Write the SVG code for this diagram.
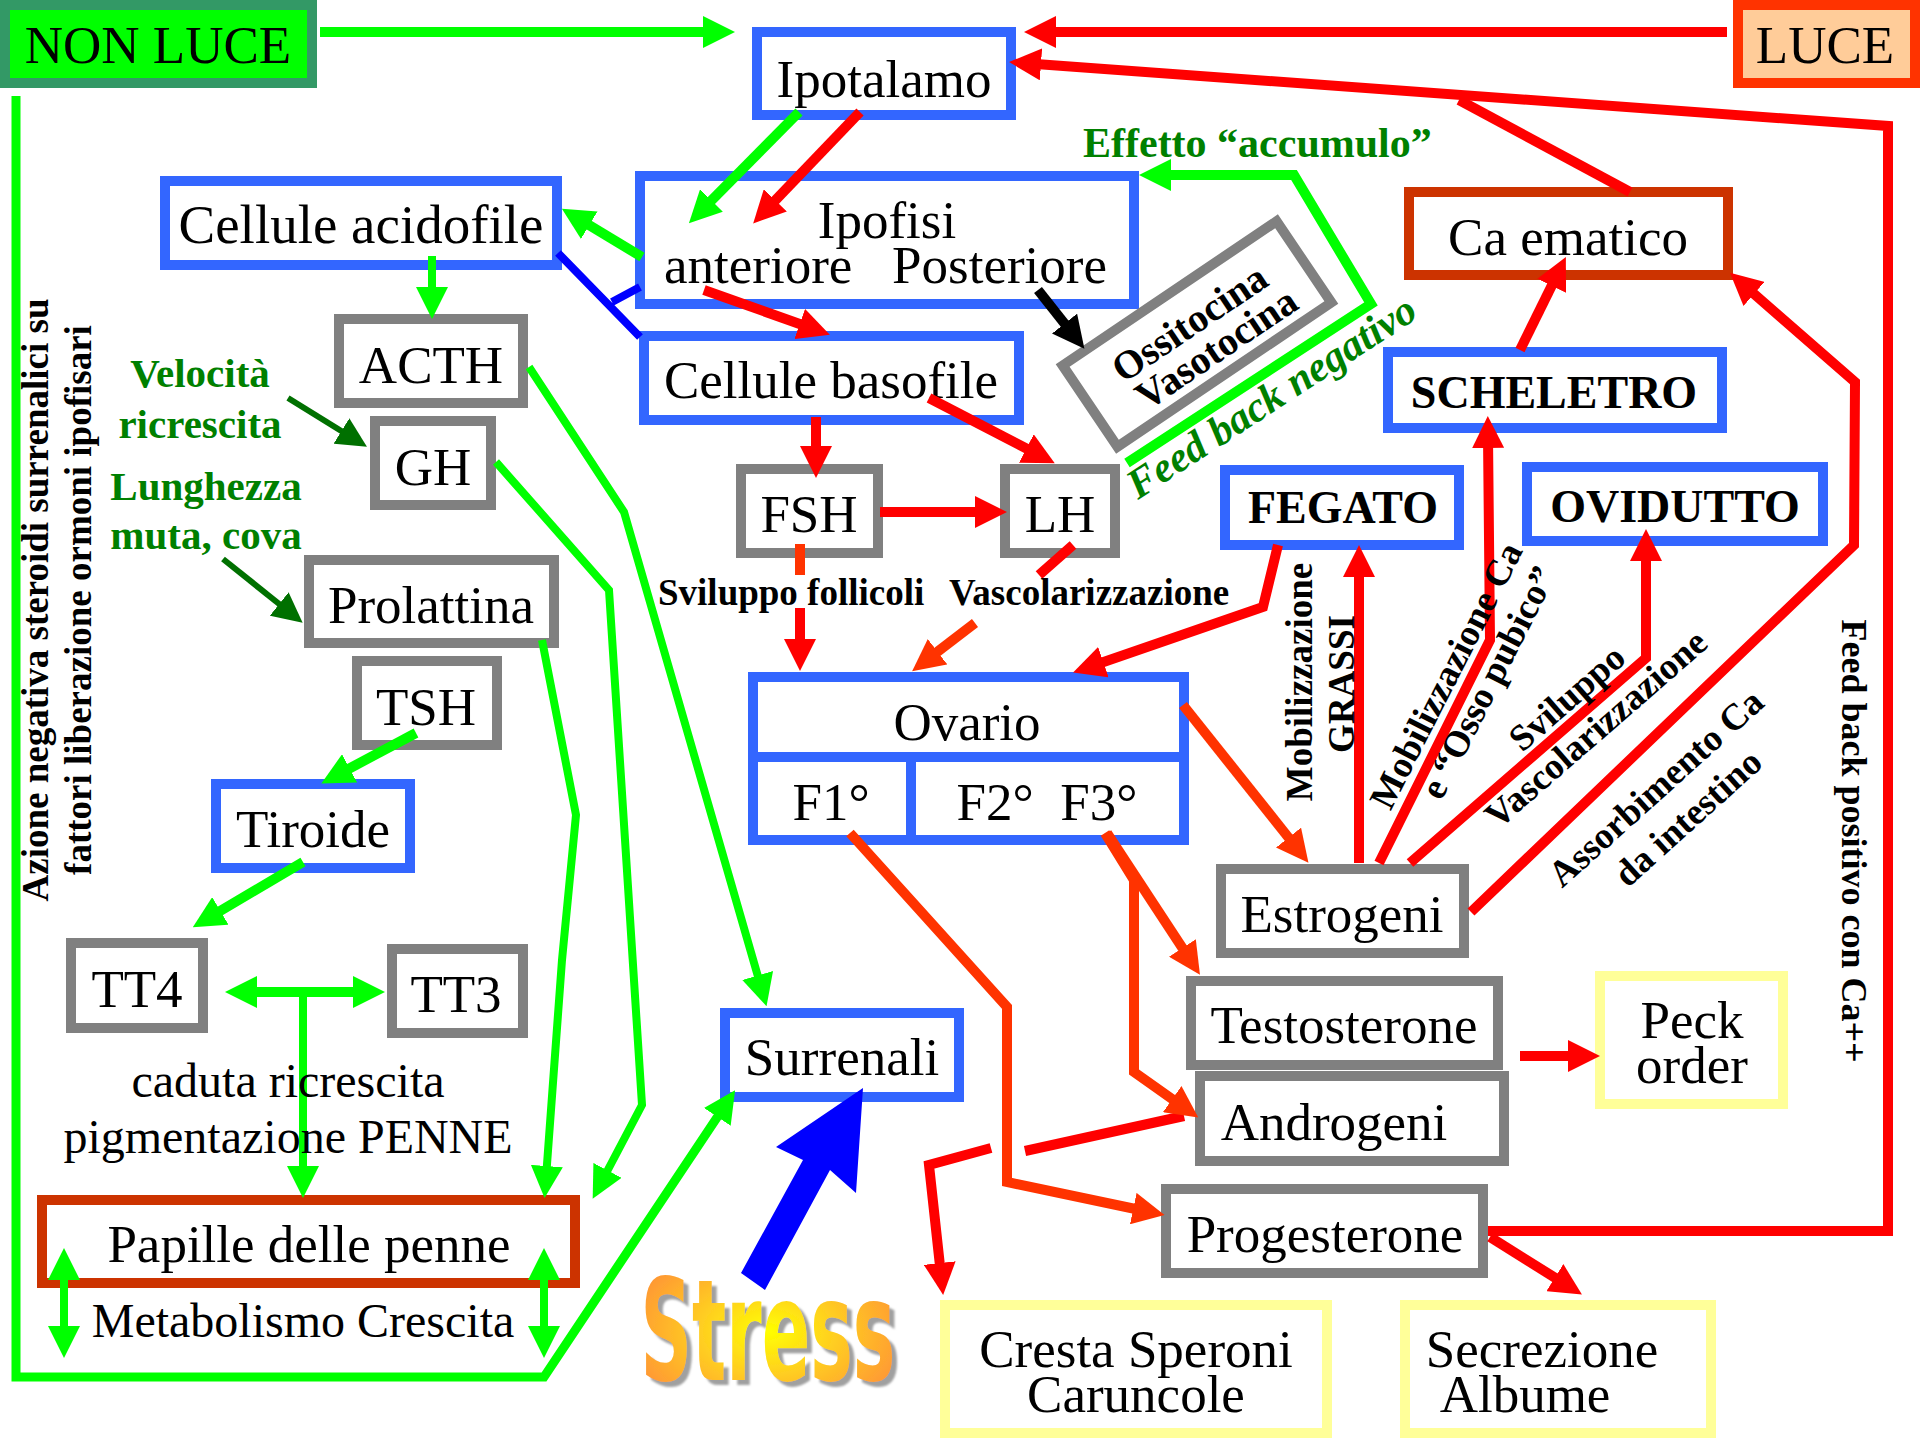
<svg xmlns="http://www.w3.org/2000/svg" width="1920" height="1440" viewBox="0 0 1920 1440">
<defs>
<style>
.bx{fill:#fff;stroke-width:10}
.bl{stroke:#3366ff}
.gr{stroke:#808080}
.br{stroke:#cc3300}
.ye{stroke:#ffff99}
.t{font-family:"Liberation Serif","Times New Roman",serif;font-size:53px;fill:#000;text-anchor:middle}
.b{font-family:"Liberation Serif","Times New Roman",serif;font-weight:bold;fill:#000}
.gt{fill:#008000}
.g{stroke:#00ff00}
.r{stroke:#ff0000}
.o{stroke:#ff3300}
.k{stroke:#000}
.d{stroke:#007000}
.u{stroke:#0000ff}
</style>
<marker id="ag" viewBox="0 0 32 32" refX="12" refY="16" markerWidth="32" markerHeight="32" markerUnits="userSpaceOnUse" orient="auto-start-reverse"><path d="M0,0L32,16L0,32z" fill="#00ff00"/></marker>
<marker id="ar" viewBox="0 0 32 32" refX="12" refY="16" markerWidth="32" markerHeight="32" markerUnits="userSpaceOnUse" orient="auto-start-reverse"><path d="M0,0L32,16L0,32z" fill="#ff0000"/></marker>
<marker id="ao" viewBox="0 0 32 32" refX="12" refY="16" markerWidth="32" markerHeight="32" markerUnits="userSpaceOnUse" orient="auto-start-reverse"><path d="M0,0L32,16L0,32z" fill="#ff3300"/></marker>
<marker id="ak" viewBox="0 0 32 32" refX="12" refY="16" markerWidth="32" markerHeight="32" markerUnits="userSpaceOnUse" orient="auto-start-reverse"><path d="M0,0L32,16L0,32z" fill="#000"/></marker>
<marker id="ad" viewBox="0 0 32 32" refX="12" refY="16" markerWidth="30" markerHeight="30" markerUnits="userSpaceOnUse" orient="auto-start-reverse"><path d="M0,0L32,16L0,32z" fill="#007000"/></marker>
<radialGradient id="sg" cx="50%" cy="50%" r="55%">
<stop offset="0" stop-color="#ffff00"/>
<stop offset="0.5" stop-color="#ffcc22"/>
<stop offset="1" stop-color="#ff9933"/>
</radialGradient>
<filter id="sh" x="-10%" y="-10%" width="130%" height="130%"><feDropShadow dx="5" dy="5" stdDeviation="1" flood-color="#a0a0a0"/></filter>
</defs>
<rect width="1920" height="1440" fill="#fff"/>

<g id="nodes">
<g id="n-nonluce"><rect x="5" y="5" width="307" height="78" fill="#00ff00" stroke="#339966" stroke-width="10"/><text class="t" x="158" y="63">NON LUCE</text></g>
<g id="n-luce"><rect x="1738" y="5" width="177" height="78" fill="#ffcc99" stroke="#ff3300" stroke-width="10"/><text class="t" x="1825" y="63">LUCE</text></g>
<g id="n-ipotalamo"><rect class="bx bl" x="757" y="32" width="254" height="83"/><text class="t" x="884" y="97">Ipotalamo</text></g>
<g id="n-ipofisi"><rect class="bx bl" x="640" y="176" width="494" height="128"/><text class="t" x="887" y="238">Ipofisi</text><text class="t" x="664" y="283" style="text-anchor:start" xml:space="preserve">anteriore   Posteriore</text></g>
<g id="n-acidofile"><rect class="bx bl" x="165" y="181" width="392" height="84"/><text class="t" x="361" y="243" style="font-size:55px">Cellule acidofile</text></g>
<g id="n-basofile"><rect class="bx bl" x="644" y="336" width="375" height="84"/><text class="t" x="831" y="398">Cellule basofile</text></g>
<g id="n-fsh"><rect class="bx gr" x="741" y="469" width="137" height="84"/><text class="t" x="809" y="532">FSH</text></g>
<g id="n-lh"><rect class="bx gr" x="1005" y="469" width="110" height="84"/><text class="t" x="1060" y="532">LH</text></g>
<g id="n-acth"><rect class="bx gr" x="339" y="319" width="184" height="84"/><text class="t" x="431" y="383">ACTH</text></g>
<g id="n-gh"><rect class="bx gr" x="375" y="421" width="116" height="84"/><text class="t" x="433" y="485">GH</text></g>
<g id="n-prolattina"><rect class="bx gr" x="309" y="560" width="245" height="83"/><text class="t" x="431" y="623">Prolattina</text></g>
<g id="n-tsh"><rect class="bx gr" x="357" y="661" width="140" height="84"/><text class="t" x="426" y="725">TSH</text></g>
<g id="n-tiroide"><rect class="bx bl" x="216" y="784" width="194" height="84"/><text class="t" x="313" y="847">Tiroide</text></g>
<g id="n-tt4"><rect class="bx gr" x="71" y="943" width="132" height="85"/><text class="t" x="137" y="1007">TT4</text></g>
<g id="n-tt3"><rect class="bx gr" x="392" y="949" width="131" height="84"/><text class="t" x="456" y="1012">TT3</text></g>
<g id="n-papille"><rect class="bx br" x="42" y="1200" width="533" height="83"/><text class="t" x="309" y="1262">Papille delle penne</text></g>
<g id="n-surrenali"><rect class="bx bl" x="725" y="1013" width="234" height="84"/><text class="t" x="842" y="1075">Surrenali</text></g>
<g id="n-ovario"><rect class="bx bl" x="753" y="677" width="431" height="163"/><path d="M748,757H1189M911,757V845" fill="none" stroke="#3366ff" stroke-width="10"/><text class="t" x="967" y="740">Ovario</text><text class="t" x="831" y="820">F1°</text><text class="t" x="1047" y="820" xml:space="preserve">F2°  F3°</text></g>
<g id="n-estrogeni"><rect class="bx gr" x="1221" y="869" width="243" height="84"/><text class="t" x="1342" y="932">Estrogeni</text></g>
<g id="n-testosterone"><rect class="bx gr" x="1191" y="981" width="307" height="84"/><text class="t" x="1344" y="1043">Testosterone</text></g>
<g id="n-androgeni"><rect class="bx gr" x="1200" y="1076" width="304" height="85"/><text class="t" x="1334" y="1140">Androgeni</text></g>
<g id="n-progesterone"><rect class="bx gr" x="1166" y="1189" width="317" height="84"/><text class="t" x="1325" y="1252">Progesterone</text></g>
<g id="n-peck"><rect class="bx ye" x="1600" y="976" width="183" height="128"/><text class="t" x="1692" y="1038">Peck</text><text class="t" x="1692" y="1083">order</text></g>
<g id="n-cresta"><rect class="bx ye" x="945" y="1305" width="382" height="128"/><text class="t" x="1136" y="1367">Cresta Speroni</text><text class="t" x="1136" y="1412">Caruncole</text></g>
<g id="n-secrezione"><rect class="bx ye" x="1405" y="1305" width="306" height="128"/><text class="t" x="1542" y="1367">Secrezione</text><text class="t" x="1525" y="1412">Albume</text></g>
<g id="n-caematico"><rect class="bx br" x="1409" y="192" width="319" height="83"/><text class="t" x="1568" y="255">Ca ematico</text></g>
<g id="n-scheletro"><rect class="bx bl" x="1388" y="352" width="334" height="76"/><text class="b" x="1554" y="408" font-size="46" text-anchor="middle">SCHELETRO</text></g>
<g id="n-fegato"><rect class="bx bl" x="1225" y="470" width="234" height="75"/><text class="b" x="1343" y="523" font-size="46" text-anchor="middle">FEGATO</text></g>
<g id="n-ovidutto"><rect class="bx bl" x="1527" y="467" width="296" height="74"/><text class="b" x="1675" y="522" font-size="46" text-anchor="middle">OVIDUTTO</text></g>
<g id="n-ossitocina" transform="translate(1197,334) rotate(-34)"><rect class="bx gr" x="-129" y="-49" width="258" height="98"/><text class="b" x="0" y="0" font-size="40" text-anchor="middle">Ossitocina</text><text class="b" x="8" y="36" font-size="40" text-anchor="middle">Vasotocina</text></g>
</g>

<g id="connectors" fill="none">
<path class="g" stroke-width="10" d="M320,32H715" marker-end="url(#ag)"/>
<path class="g" stroke-width="10" d="M799,112L703,209" marker-end="url(#ag)"/>
<path class="g" stroke-width="10" d="M642,257L579,219" marker-end="url(#ag)"/>
<path class="g" stroke-width="8" d="M432,256V299" marker-end="url(#ag)"/>
<path class="g" stroke-width="8" d="M529,367L624,512L761,987" marker-end="url(#ag)"/>
<path class="g" stroke-width="8" d="M496,462L609,590L642,1105L602,1181" marker-end="url(#ag)"/>
<path class="g" stroke-width="8" d="M542,640L576,815L562,960L546,1178" marker-end="url(#ag)"/>
<path class="g" stroke-width="10" d="M416,733L339,774" marker-end="url(#ag)"/>
<path class="g" stroke-width="10" d="M303,862L210,917" marker-end="url(#ag)"/>
<path class="g" stroke-width="10" d="M245,992H365" marker-start="url(#ag)" marker-end="url(#ag)"/>
<path class="g" stroke-width="8" d="M303,992V1178" marker-end="url(#ag)"/>
<path class="g" stroke-width="8" d="M64,1268V1338" marker-start="url(#ag)" marker-end="url(#ag)"/>
<path class="g" stroke-width="8" d="M544,1268V1338" marker-start="url(#ag)" marker-end="url(#ag)"/>
<path class="g" stroke-width="9" d="M16,96V1377H544L724,1107" marker-end="url(#ag)"/>
<path class="g" stroke-width="10" d="M1127,463L1371,304L1294,175L1159,175" marker-end="url(#ag)"/>

<path class="r" stroke-width="10" d="M1727,32H1044" marker-end="url(#ar)"/>
<path class="r" stroke-width="10" d="M1488,1231H1888V126L1029,63.5" marker-end="url(#ar)"/>
<path class="r" stroke-width="10" d="M1630,192L1459,100"/>
<path class="r" stroke-width="10" d="M860,112L767,209" marker-end="url(#ar)"/>
<path class="r" stroke-width="10" d="M704,290L811,328" marker-end="url(#ar)"/>
<path class="r" stroke-width="10" d="M816,417V458" marker-end="url(#ar)"/>
<path class="r" stroke-width="10" d="M929,398L1037,454" marker-end="url(#ar)"/>
<path class="r" stroke-width="10" d="M880,512H987" marker-end="url(#ar)"/>
<path class="o" stroke-width="10" d="M800,544V575"/>
<path class="r" stroke-width="10" d="M800,608V651" marker-end="url(#ar)"/>
<path class="r" stroke-width="10" d="M1073,545L1039,575"/>
<path class="o" stroke-width="10" d="M975,623L928,659" marker-end="url(#ao)"/>
<path class="r" stroke-width="10" d="M1278,545L1263,607L1092,666" marker-end="url(#ar)"/>
<path class="r" stroke-width="10" d="M1520,350L1557,275" marker-end="url(#ar)"/>
<path class="r" stroke-width="10" d="M1359,863V565" marker-end="url(#ar)"/>
<path class="r" stroke-width="10" d="M1379,863L1490,640L1488,436" marker-end="url(#ar)"/>
<path class="r" stroke-width="10" d="M1410,863L1646,658V549" marker-end="url(#ar)"/>
<path class="r" stroke-width="10" d="M1471,912L1854,545L1855,382L1745,286" marker-end="url(#ar)"/>
<path class="r" stroke-width="10" d="M1520,1056H1580" marker-end="url(#ar)"/>
<path class="r" stroke-width="10" d="M1490,1237L1565,1284" marker-end="url(#ar)"/>
<path class="r" stroke-width="10" d="M1184,1116L1025,1151"/>
<path class="r" stroke-width="10" d="M991,1148L929,1165L941,1275" marker-end="url(#ar)"/>

<path class="o" stroke-width="10" d="M1183,705L1296,847" marker-end="url(#ao)"/>
<path class="o" stroke-width="10" d="M1107,833L1189,958" marker-end="url(#ao)"/>
<path class="o" stroke-width="10" d="M1105,833L1134,880V1072L1182,1106" marker-end="url(#ao)"/>
<path class="o" stroke-width="10" d="M850,833L1007,1007V1182L1145,1211" marker-end="url(#ao)"/>

<path class="k" stroke-width="10" d="M1038,290L1072,333" marker-end="url(#ak)"/>
<path class="d" stroke-width="6" d="M288,398L351,437" marker-end="url(#ad)"/>
<path class="d" stroke-width="6" d="M223,559L288,611" marker-end="url(#ad)"/>
<path class="u" stroke-width="8" d="M558,253L640,337M612,302L640,287"/>
<polygon points="863,1088 856,1193 830,1170 765,1290 741,1273 803,1160 776,1147" fill="#0000ff"/>
</g>

<g id="labels">
<text class="b gt" x="1083" y="157" font-size="42">Effetto “accumulo”</text>
<text class="b gt" font-size="42" font-style="italic" transform="translate(1138,500) rotate(-33)">Feed back negativo</text>
<text class="b" x="658" y="605" font-size="37">Sviluppo follicoli</text>
<text class="b" x="949" y="605" font-size="37">Vascolarizzazione</text>
<text class="b" font-size="37" text-anchor="middle" transform="translate(1312,682) rotate(-90)">Mobilizzazione</text>
<text class="b" font-size="37" text-anchor="middle" transform="translate(1354,684) rotate(-90)">GRASSI</text>
<text class="b" font-size="37" text-anchor="middle" transform="translate(1457,681) rotate(-63)">Mobilizzazione Ca</text>
<text class="b" font-size="37" text-anchor="middle" transform="translate(1499,688) rotate(-63)">e “Osso pubico”</text>
<text class="b" font-size="37" text-anchor="middle" transform="translate(1575,707) rotate(-41)">Sviluppo</text>
<text class="b" font-size="37" text-anchor="middle" transform="translate(1604,738) rotate(-41)">Vascolarizzazione</text>
<text class="b" font-size="37" text-anchor="middle" transform="translate(1664,797) rotate(-42)">Assorbimento Ca</text>
<text class="b" font-size="37" text-anchor="middle" transform="translate(1696,827) rotate(-42)">da intestino</text>
<text class="b" font-size="36" text-anchor="middle" transform="translate(1842,841) rotate(90)">Feed back positivo con Ca++</text>
<text class="b" font-size="37" text-anchor="middle" transform="translate(48,600) rotate(-90)">Azione negativa steroidi surrenalici su</text>
<text class="b" font-size="37" text-anchor="middle" transform="translate(91,600) rotate(-90)">fattori liberazione ormoni ipofisari</text>
<text class="b gt" x="200" y="387" font-size="41" text-anchor="middle">Velocità</text>
<text class="b gt" x="200" y="438" font-size="41" text-anchor="middle">ricrescita</text>
<text class="b gt" x="206" y="500" font-size="41" text-anchor="middle">Lunghezza</text>
<text class="b gt" x="206" y="549" font-size="41" text-anchor="middle">muta, cova</text>
<text class="t" x="288" y="1097" style="font-size:48px">caduta ricrescita</text>
<text class="t" x="288" y="1153" style="font-size:48px">pigmentazione PENNE</text>
<text class="t" x="303" y="1337" style="font-size:48px">Metabolismo Crescita</text>
<text x="768" y="1380" text-anchor="middle" font-family="'Liberation Sans Narrow','DejaVu Sans Condensed','Liberation Sans',sans-serif" font-weight="bold" font-size="140" textLength="255" lengthAdjust="spacingAndGlyphs" fill="url(#sg)" filter="url(#sh)">Stress</text>
</g>
</svg>
